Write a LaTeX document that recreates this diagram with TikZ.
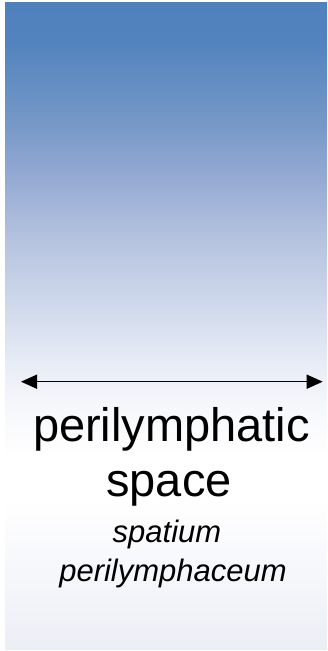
\documentclass[tikz,border=0pt]{standalone}
\usepackage{fontspec}
\setmainfont{Liberation Sans}
\usetikzlibrary{arrows.meta}
\definecolor{sA}{HTML}{ECEEF6}
\definecolor{sB}{HTML}{F4F5FA}
\definecolor{sC}{HTML}{FFFFFF}
\definecolor{sD}{HTML}{F6F7FB}
\definecolor{sE}{HTML}{E6EBF5}
\definecolor{sF}{HTML}{B5C3DF}
\definecolor{sG}{HTML}{96ABD3}
\definecolor{sH}{HTML}{7497C6}
\definecolor{sI}{HTML}{5283BE}
\definecolor{sJ}{HTML}{4F81BD}
\pgfdeclareverticalshading{bgshade}{100bp}{color(0bp)=(sA); color(25bp)=(sA); color(29.6bp)=(sB); color(36.6bp)=(sC); color(40bp)=(sC); color(44bp)=(sD); color(47.4bp)=(sE); color(56.7bp)=(sF); color(61.3bp)=(sG); color(66bp)=(sH); color(72.1bp)=(sI); color(75bp)=(sJ); color(100bp)=(sJ)}
\tikzset{
  bigtext/.style={anchor=base, inner sep=0pt, font=\fontsize{47}{55}\selectfont},
  smalltext/.style={anchor=base, inner sep=0pt, font=\fontsize{31}{38}\selectfont\itshape},
  dimarrow/.style={line width=1.5pt, {Triangle[length=16pt,width=14pt]}-{Triangle[length=16pt,width=14pt]}}
}
\begin{document}
\begin{tikzpicture}[x=1pt,y=1pt]
\useasboundingbox (0,0) rectangle (327,651);
\shade[shading=bgshade] (5,1) rectangle (327,648);
\coordinate (L) at (21,269.3);
\coordinate (R) at (322.7,269.3);
\draw[dimarrow] (L) -- (R);
\node[bigtext] (t1) at (171.5,209) {perilymphatic};
\node[bigtext] (t2) at (169,154) {space};
\node[smalltext] (t3) at (167,108) {spatium};
\node[smalltext] (t4) at (173,69) {perilymphaceum};
\end{tikzpicture}
\end{document}
